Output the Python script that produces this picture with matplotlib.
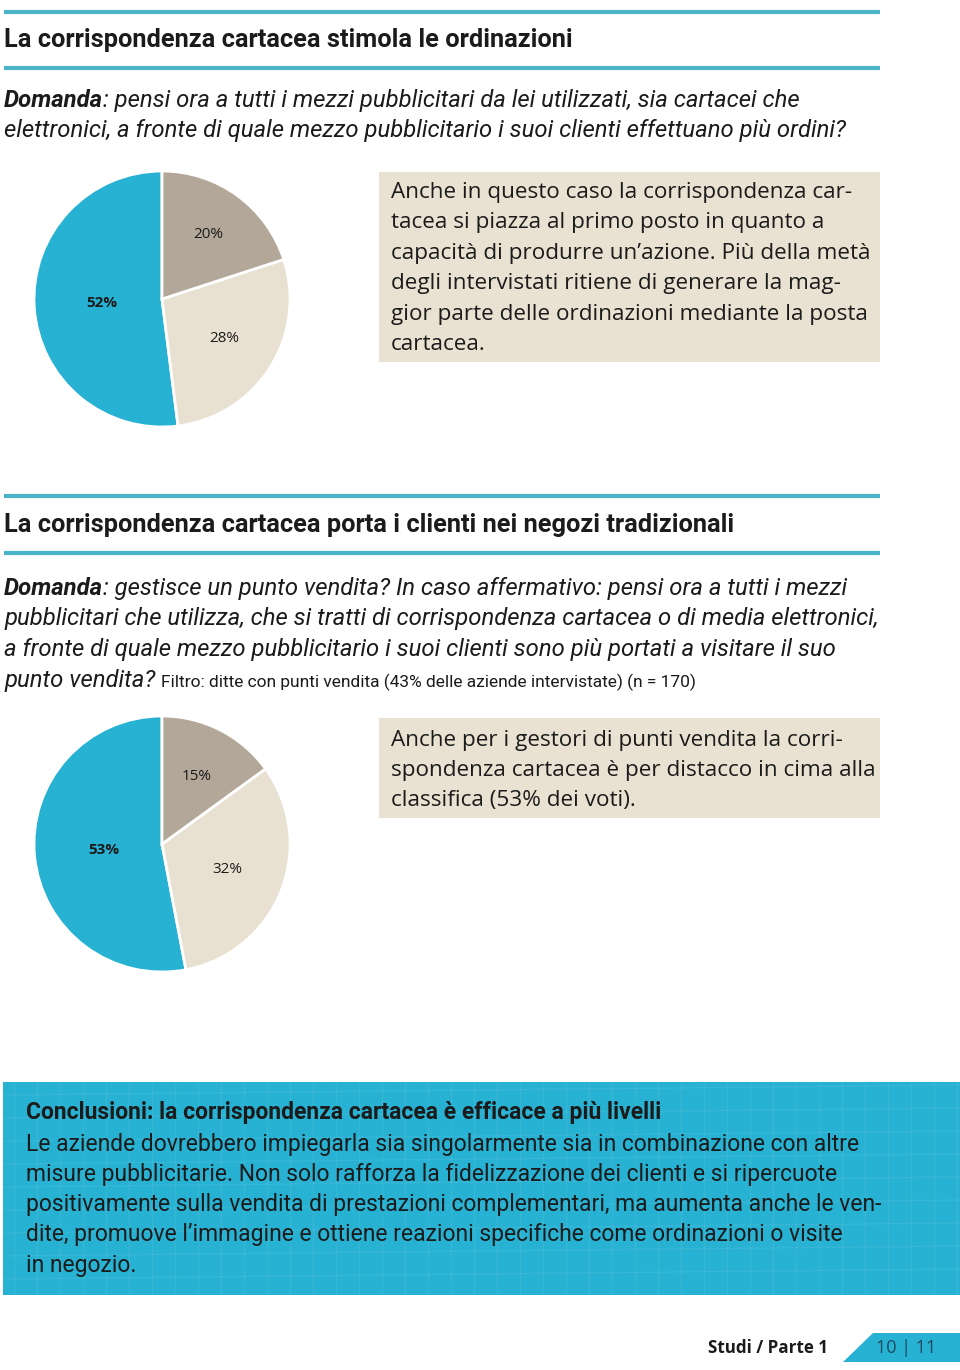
import matplotlib
matplotlib.use("Agg")
import matplotlib.pyplot as plt
from matplotlib.patches import Rectangle, Polygon
import numpy as np

# data read from the page
pie1_labels = ["52%", "28%", "20%"]
pie1_values = [52, 28, 20]
pie2_labels = ["53%", "32%", "15%"]
pie2_values = [53, 32, 15]

title1 = "La corrispondenza cartacea stimola le ordinazioni"
q1_lines = ["pensi ora a tutti i mezzi pubblicitari da lei utilizzati, sia cartacei che",
            "elettronici, a fronte di quale mezzo pubblicitario i suoi clienti effettuano più ordini?"]
box1_lines = ["Anche in questo caso la corrispondenza car-",
              "tacea si piazza al primo posto in quanto a",
              "capacità di produrre un’azione. Più della metà",
              "degli intervistati ritiene di generare la mag-",
              "gior parte delle ordinazioni mediante la posta",
              "cartacea."]

title2 = "La corrispondenza cartacea porta i clienti nei negozi tradizionali"
q2_lines = ["gestisce un punto vendita? In caso affermativo: pensi ora a tutti i mezzi",
            "pubblicitari che utilizza, che si tratti di corrispondenza cartacea o di media elettronici,",
            "a fronte di quale mezzo pubblicitario i suoi clienti sono più portati a visitare il suo",
            "punto vendita?"]
q2_filter = "Filtro: ditte con punti vendita (43% delle aziende intervistate) (n = 170)"
box2_lines = ["Anche per i gestori di punti vendita la corri-",
              "spondenza cartacea è per distacco in cima alla",
              "classifica (53% dei voti)."]

concl_title = "Conclusioni: la corrispondenza cartacea è efficace a più livelli"
concl_lines = ["Le aziende dovrebbero impiegarla sia singolarmente sia in combinazione con altre",
               "misure pubblicitarie. Non solo rafforza la fidelizzazione dei clienti e si ripercuote",
               "positivamente sulla vendita di prestazioni complementari, ma aumenta anche le ven-",
               "dite, promuove l’immagine e ottiene reazioni specifiche come ordinazioni o visite",
               "in negozio."]
footer_left = "Studi / Parte 1"
footer_pages = "10 | 11"

BLUE = "#27b1d2"
GREY = "#b3a799"
BEIGE = "#e8e1d2"
BOXC = "#e9e1d1"
LINEC = "#4ab4c9"
TXT = "#1b1b1b"
COND = "Roboto"
REG = "Open Sans"

W, H = 960, 1370
fig = plt.figure(figsize=(W / 100, H / 100), dpi=100)
ax = fig.add_axes([0, 0, 1, 1])
ax.set_xlim(0, W)
ax.set_ylim(H, 0)
ax.axis("off")
renderer = fig.canvas.get_renderer()


def fit(s, width, **kw):
    # font size that makes s about `width` pixels wide
    t = ax.text(0, 0, s, fontsize=20, **kw)
    w = t.get_window_extent(renderer=renderer).width
    t.remove()
    return 20 * width / w


# rules around the headings
for y in [12, 68, 496, 553]:
    ax.plot([4, 880], [y, y], color=LINEC, lw=3, solid_capstyle="butt")

hs = fit(title1, 566, family=COND, fontweight="bold")
ax.text(4, 40, title1, fontsize=hs, fontweight="bold", family=COND, color=TXT, va="center")
ax.text(4, 525, title2, fontsize=hs, fontweight="bold", family=COND, color=TXT, va="center")


def question(y0, lines, step, size):
    t = ax.text(4, y0, "Domanda", fontsize=size, fontweight="bold", style="italic",
                family=COND, color=TXT, va="center")
    x1 = t.get_window_extent(renderer=renderer).x1
    ax.text(x1, y0, ": " + lines[0], fontsize=size, style="italic", family=COND,
            color=TXT, va="center")
    for i, ln in enumerate(lines[1:], start=1):
        ax.text(4, y0 + i * step, ln, fontsize=size, style="italic", family=COND,
                color=TXT, va="center")
    return ax.texts[-1]


qs = fit(q2_lines[1], 872, family=COND, style="italic")
question(100, q1_lines, 30.5, qs)
last = question(588, q2_lines, 30.7, qs)
fs = fit(q2_filter, 536, family=COND)
xl = last.get_window_extent(renderer=renderer).x1
ax.text(xl + 6, 682, q2_filter, fontsize=fs, family=COND, color=TXT, va="center")

# text boxes
bs = fit(box1_lines[0], 459, family=REG)
ax.add_patch(Rectangle((379, 172), 501, 190, color=BOXC, lw=0))
for i, ln in enumerate(box1_lines):
    ax.text(391, 192 + i * 30.5, ln, fontsize=bs, family=REG, color=TXT, va="center")
ax.add_patch(Rectangle((379, 718), 501, 100, color=BOXC, lw=0))
for i, ln in enumerate(box2_lines):
    ax.text(391, 740 + i * 30.2, ln, fontsize=bs, family=REG, color=TXT, va="center")

# conclusion panel
ax.add_patch(Rectangle((3, 1082), 957, 213, color=BLUE, lw=0))
for gx in np.arange(14, 960, 23):
    ax.plot([gx, gx], [1082, 1295], color="white", alpha=0.07, lw=1)
for gy in np.arange(1095, 1295, 23):
    ax.plot([3, 960], [gy, gy - 10], color="white", alpha=0.07, lw=1)
cs = fit(concl_lines[0], 832, family=COND)
ax.text(26, 1113, concl_title, fontsize=cs, fontweight="bold", family=COND, color=TXT, va="center")
for i, ln in enumerate(concl_lines):
    ax.text(26, 1144 + i * 30.3, ln, fontsize=cs, family=COND, color=TXT, va="center")

# footer
ax.text(708, 1348, footer_left, fontsize=fit(footer_left, 120, family=REG, fontweight="bold"),
        fontweight="bold", family=REG, color=TXT, va="center")
ax.add_patch(Polygon([(843, 1362), (873, 1333), (960, 1333), (960, 1362)], closed=True,
                     color=BLUE, lw=0))
ax.text(906, 1348, footer_pages, fontsize=13, family=REG, color="#1d4a60", va="center", ha="center")


# pies
def draw_pie(cx, cy, r, values, labels, dists):
    pax = fig.add_axes([(cx - r) / W, 1 - (cy + r) / H, 2 * r / W, 2 * r / H])
    wedges, _ = pax.pie(values, colors=[BLUE, BEIGE, GREY], startangle=90, counterclock=True,
                        wedgeprops=dict(edgecolor="white", linewidth=2))
    pax.set_xlim(-1, 1)
    pax.set_ylim(-1, 1)
    pax.set_aspect("auto")
    for k, (w, lab) in enumerate(zip(wedges, labels)):
        ang = np.deg2rad((w.theta1 + w.theta2) / 2)
        pax.text(dists[k] * np.cos(ang), dists[k] * np.sin(ang), lab, ha="center", va="center",
                 fontsize=11, family=REG, color=TXT,
                 fontweight="bold" if k == 0 else "normal")


draw_pie(162, 299, 128, pie1_values, pie1_labels, [0.47, 0.58, 0.62])
draw_pie(162, 844, 128, pie2_values, pie2_labels, [0.46, 0.55, 0.59])

fig.savefig("out.png", dpi=100)
